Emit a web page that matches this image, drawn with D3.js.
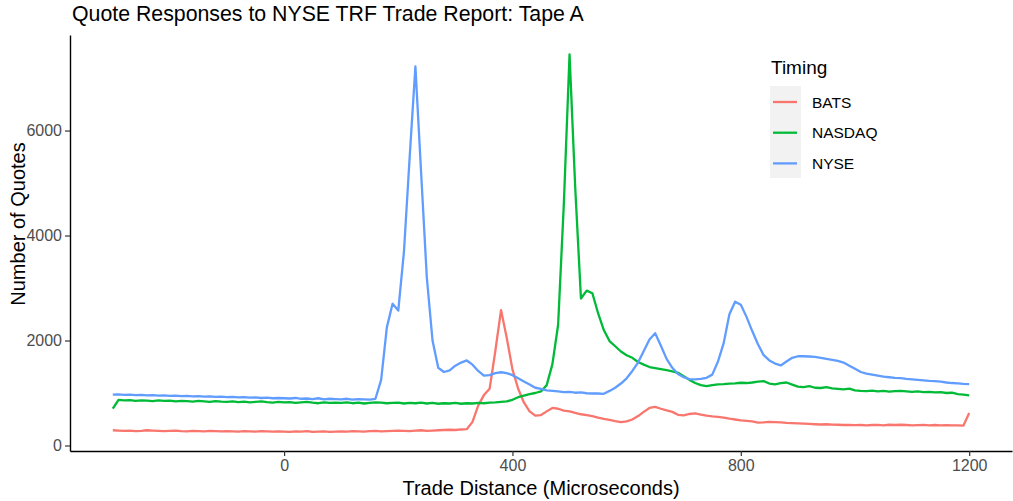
<!DOCTYPE html>
<html>
<head>
<meta charset="utf-8">
<script src="https://cdn.jsdelivr.net/npm/d3@7"></script>
<style>
  body { margin: 0; background: #fff; }
  svg { display: block; font-family: "Liberation Sans", Arial, sans-serif; }
</style>
</head>
<body>
<svg id="chart"></svg>
<script>
// Trade distance grid (microseconds)
const distance = [
  -300, -290, -280, -270, -260, -250, -240, -230, -220, -210,
  -200, -190, -180, -170, -160, -150, -140, -130, -120, -110,
  -100, -90, -80, -70, -60, -50, -40, -30, -20, -10,
  0, 10, 20, 30, 40, 50, 60, 70, 80, 90,
  100, 110, 120, 130, 140, 150, 160, 170, 180, 190,
  200, 210, 220, 230, 240, 250, 260, 270, 280, 290,
  300, 310, 320, 330, 340, 350, 360, 370, 380, 390,
  400, 410, 420, 430, 440, 450, 460, 470, 480, 490,
  500, 510, 520, 530, 540, 550, 560, 570, 580, 590,
  600, 610, 620, 630, 640, 650, 660, 670, 680, 690,
  700, 710, 720, 730, 740, 750, 760, 770, 780, 790,
  800, 810, 820, 830, 840, 850, 860, 870, 880, 890,
  900, 910, 920, 930, 940, 950, 960, 970, 980, 990,
  1000, 1010, 1020, 1030, 1040, 1050, 1060, 1070, 1080, 1090,
  1100, 1110, 1120, 1130, 1140, 1150, 1160, 1170, 1180, 1190, 1200
];

const bats = [
  290, 285, 280, 285, 275, 280, 290, 285, 280, 275,
  280, 285, 275, 270, 280, 275, 270, 280, 275, 270,
  275, 270, 265, 275, 270, 265, 275, 270, 265, 270,
  265, 260, 270, 265, 275, 260, 265, 270, 260, 265,
  270, 265, 275, 270, 265, 275, 280, 270, 275, 280,
  285, 280, 275, 285, 290, 280, 285, 290, 295, 300,
  295, 305, 310, 450, 760, 960, 1080, 1800, 2580, 2050,
  1450, 1080, 820, 650, 570, 580, 650, 715, 700, 665,
  650, 620, 595, 580, 560, 530, 505, 490, 465, 445,
  460, 495, 560, 640, 715, 735, 700, 670, 640, 585,
  575, 600, 610, 590, 570, 555, 545, 530, 510, 495,
  480, 470, 460, 435, 440, 450, 445, 440, 430, 425,
  420, 415, 410, 405, 400, 405, 398, 395, 390, 392,
  388, 390, 385, 390, 392, 385, 395, 390, 395, 390,
  385, 388, 392, 385, 390, 385, 388, 382, 385, 380, 620
];

const nasdaq = [
  700, 870, 860, 865, 850, 860, 855, 845, 860, 850,
  855, 840, 850, 845, 835, 850, 840, 830, 845, 835,
  830, 840, 825, 835, 820, 830, 840, 825, 815, 830,
  820, 825, 810, 820, 830, 815, 805, 820, 810, 815,
  810, 820, 805, 815, 800, 810, 820, 815, 805, 810,
  815, 800, 810, 805, 815, 800, 810, 795, 805, 800,
  810, 795, 805, 800, 810, 805, 815, 820, 830, 840,
  870, 920, 950, 980, 1000, 1030, 1150, 1550, 2300, 4600,
  7450, 4900, 2800, 2950, 2900, 2520, 2200, 1990, 1890, 1790,
  1720, 1670, 1590, 1540, 1495, 1475, 1455, 1435, 1410, 1385,
  1320, 1250, 1190, 1150, 1130, 1150, 1165, 1170, 1180, 1185,
  1195, 1190, 1200, 1215, 1225, 1180, 1165, 1190, 1200, 1160,
  1120, 1110, 1130, 1100, 1095, 1110, 1090, 1080, 1070, 1085,
  1050, 1040, 1035, 1045, 1030, 1040, 1025, 1035, 1040, 1030,
  1020, 1030, 1015, 1020, 1010, 1015, 1000, 1005, 980, 970, 955
];

const nyse = [
  970, 975, 965, 970, 960, 965, 955, 960, 950, 955,
  945, 950, 940, 945, 935, 940, 930, 935, 925, 930,
  920, 925, 915, 920, 910, 915, 905, 910, 900, 905,
  900, 895, 905, 890, 895, 885, 900, 880, 890, 885,
  880, 890, 875, 885, 880, 875, 890, 1250, 2250, 2700,
  2570, 3700, 5500, 7220, 5200, 3200, 2000, 1480, 1400, 1430,
  1520, 1580, 1620, 1540, 1420, 1330, 1340, 1380, 1395, 1380,
  1340, 1280, 1220, 1160, 1100, 1080, 1050, 1040, 1030, 1015,
  1020, 1005, 1010, 995, 990, 990, 985, 1040, 1100, 1180,
  1280, 1420, 1580, 1800, 2020, 2140, 1900, 1650, 1480, 1360,
  1300, 1265, 1260, 1270, 1290, 1350, 1600, 1950, 2500, 2740,
  2680, 2450, 2180, 1930, 1720, 1620, 1560, 1525, 1600, 1670,
  1700, 1700, 1695, 1690, 1670, 1650, 1630, 1610, 1580, 1520,
  1460, 1400, 1370, 1350, 1330, 1310, 1300, 1290, 1285, 1270,
  1260, 1250, 1240, 1230, 1225, 1215, 1200, 1190, 1185, 1175, 1170
];

const seriesNames = ['BATS', 'NASDAQ', 'NYSE'];
const seriesColors = ['#F8766D', '#00BA38', '#619CFF'];
const xTicks = [0, 400, 800, 1200];
const yTicks = [0, 2000, 4000, 6000];

const width = 1013;
const height = 501;
const margin = { top: 35, right: 1, bottom: 50, left: 70 };

const svg = d3.select('#chart')
  .attr('width', width)
  .attr('height', height);

const x = d3.scaleLinear()
  .domain([-375, 1275])
  .range([margin.left, width - margin.right]);

const y = d3.scaleLinear()
  .domain([-105, 7820])
  .range([height - margin.bottom, margin.top]);

// title
svg.append('text')
  .attr('x', 72)
  .attr('y', 21)
  .attr('font-size', 21.3)
  .attr('fill', '#000')
  .text('Quote Responses to NYSE TRF Trade Report: Tape A');

// lines
const allSeries = [bats, nasdaq, nyse];
const line = d3.line()
  .x((d, i) => x(distance[i]))
  .y(d => y(d));

svg.append('g')
  .selectAll('path')
  .data(allSeries)
  .enter().append('path')
  .attr('d', d => line(d))
  .attr('fill', 'none')
  .attr('stroke', (d, i) => seriesColors[i])
  .attr('stroke-width', 2.3)
  .attr('stroke-linejoin', 'round');

// axes
const fmt = d3.format('d');
const xAxis = svg.append('g')
  .attr('transform', `translate(0,${height - margin.bottom})`)
  .call(d3.axisBottom(x).tickValues(xTicks).tickFormat(fmt).tickSize(5).tickPadding(4).tickSizeOuter(0));

const yAxis = svg.append('g')
  .attr('transform', `translate(${margin.left},0)`)
  .call(d3.axisLeft(y).tickValues(yTicks).tickFormat(fmt).tickSize(5).tickPadding(3).tickSizeOuter(0));

[xAxis, yAxis].forEach(ax => {
  ax.select('.domain').attr('stroke', '#000').attr('stroke-width', 1.4);
  ax.selectAll('.tick line').attr('stroke', '#333').attr('stroke-width', 1.2);
  ax.selectAll('.tick text')
    .attr('fill', '#4D4D4D')
    .attr('font-size', 16)
    .attr('font-family', '"Liberation Sans", Arial, sans-serif');
});

// axis titles
svg.append('text')
  .attr('x', (margin.left + width - margin.right) / 2)
  .attr('y', 495)
  .attr('text-anchor', 'middle')
  .attr('font-size', 20)
  .text('Trade Distance (Microseconds)');

svg.append('text')
  .attr('transform', 'translate(25,224) rotate(-90)')
  .attr('text-anchor', 'middle')
  .attr('font-size', 20)
  .text('Number of Quotes');

// legend
const legend = svg.append('g').attr('transform', 'translate(771,0)');

legend.append('text')
  .attr('x', 0)
  .attr('y', 74)
  .attr('font-size', 19)
  .text('Timing');

legend.append('rect')
  .attr('x', -1)
  .attr('y', 86)
  .attr('width', 31)
  .attr('height', 92)
  .attr('fill', '#F2F2F2');

seriesNames.forEach((name, i) => {
  const cy = 102 + i * 30.7;
  legend.append('line')
    .attr('x1', 2).attr('x2', 26)
    .attr('y1', cy).attr('y2', cy)
    .attr('stroke', seriesColors[i])
    .attr('stroke-width', 2.3);
  legend.append('text')
    .attr('x', 41)
    .attr('y', cy + 5.5)
    .attr('font-size', 15.5)
    .text(name);
});
</script>
</body>
</html>
